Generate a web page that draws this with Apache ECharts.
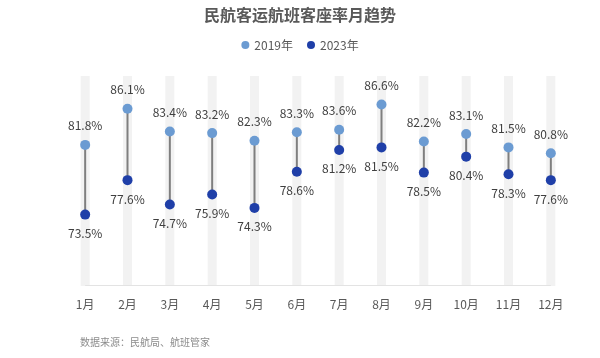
<!DOCTYPE html>
<html><head><meta charset="utf-8">
<script src="https://cdn.jsdelivr.net/npm/echarts@6/dist/echarts.min.js"></script>
<style>html,body{margin:0;padding:0;background:#fff}#c{width:600px;height:358px}</style>
</head><body><div id="c"></div>
<script>
const months = ['1月','2月','3月','4月','5月','6月','7月','8月','9月','10月','11月','12月'];
const rate2019 = [81.8, 86.1, 83.4, 83.2, 82.3, 83.3, 83.6, 86.6, 82.2, 83.1, 81.5, 80.8];
const rate2023 = [73.5, 77.6, 74.7, 75.9, 74.3, 78.6, 81.2, 81.5, 78.5, 80.4, 78.3, 77.6];
const yMin = 65, yMax = 90;

const font = '"Microsoft YaHei","Noto Sans CJK SC",sans-serif';
const chart = echarts.init(document.getElementById('c'), null, {renderer: 'canvas'});
chart.setOption({
  animation: false,
  backgroundColor: '#fff',
  title: {
    text: '民航客运航班客座率月趋势', left: 'center', top: 2,
    textStyle: {fontSize: 16, fontWeight: 'bold', color: '#595959', fontFamily: font}
  },
  legend: {
    top: 34, left: 'center', itemWidth: 8, itemHeight: 8, itemGap: 14,
    data: [{name: '2019年', icon: 'circle'}, {name: '2023年', icon: 'circle'}],
    textStyle: {fontSize: 12, color: '#595959', fontFamily: font}
  },
  graphic: [{
    type: 'text', left: 80, top: 337,
    style: {text: '数据来源：民航局、航班管家', fontSize: 10, fill: '#8c8c8c', fontFamily: font}
  }],
  grid: {left: 64, right: 28, top: 76, bottom: 72},
  xAxis: {
    type: 'category', data: months,
    axisLine: {show: false},
    axisTick: {show: false},
    axisLabel: {fontSize: 12, color: '#595959', margin: 12, fontFamily: font}
  },
  yAxis: {
    type: 'value', min: yMin, max: yMax, show: false, splitLine: {show: false}
  },
  series: [
    {
      type: 'bar', data: rate2019, barWidth: 9, silent: true,
      itemStyle: {color: 'rgba(0,0,0,0)'},
      showBackground: true, backgroundStyle: {color: '#f2f2f2'},
      z: 1
    },
    {
      type: 'custom', silent: true, z: 2,
      data: [[0, months.length - 1, yMin]],
      renderItem: function (params, api) {
        const a = api.coord([api.value(0), api.value(2)]);
        const b = api.coord([api.value(1), api.value(2)]);
        return {type: 'line', shape: {x1: a[0], y1: a[1] - 0.5, x2: b[0], y2: b[1] - 0.5},
          style: {stroke: '#e3e3e3', lineWidth: 1}};
      }
    },
    {
      type: 'custom', silent: true, z: 2,
      data: months.map((m, i) => [i, rate2019[i], rate2023[i]]),
      encode: {x: 0, y: [1, 2]},
      renderItem: function (params, api) {
        const p1 = api.coord([api.value(0), api.value(1)]);
        const p2 = api.coord([api.value(0), api.value(2)]);
        return {type: 'line', shape: {x1: p1[0], y1: p1[1], x2: p2[0], y2: p2[1]},
          style: {stroke: '#7f7f7f', lineWidth: 2}};
      }
    },
    {
      name: '2019年', type: 'scatter', data: rate2019, symbolSize: 10, z: 3,
      itemStyle: {color: '#6b9bd2', opacity: 1},
      label: {show: true, position: 'top', distance: 8, formatter: p => p.value.toFixed(1) + '%',
        fontSize: 12, color: '#404040', fontFamily: font}
    },
    {
      name: '2023年', type: 'scatter', data: rate2023, symbolSize: 10, z: 3,
      itemStyle: {color: '#1f3fa8', opacity: 1},
      label: {show: true, position: 'bottom', distance: 8, formatter: p => p.value.toFixed(1) + '%',
        fontSize: 12, color: '#404040', fontFamily: font}
    }
  ]
});
</script></body></html>
